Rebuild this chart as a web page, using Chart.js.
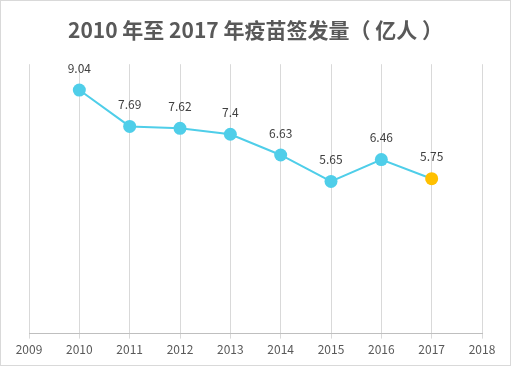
<!DOCTYPE html>
<html>
<head>
<meta charset="utf-8">
<script src="https://cdn.jsdelivr.net/npm/chart.js@4/dist/chart.umd.min.js"></script>
<style>
  html, body { margin: 0; padding: 0; background: #fff; }
  #wrap { width: 511px; height: 366px; box-sizing: border-box; border: 1px solid #d9d9d9; background: #fff; }
  canvas { display: block; }
</style>
</head>
<body>
<div id="wrap"><canvas id="c" width="509" height="364"></canvas></div>
<script>
const titleText = '2010 年至 2017 年疫苗签发量（ 亿人 ）';
const years = [2010, 2011, 2012, 2013, 2014, 2015, 2016, 2017];
const values = [9.04, 7.69, 7.62, 7.4, 6.63, 5.65, 6.46, 5.75];
const valueLabels = ['9.04', '7.69', '7.62', '7.4', '6.63', '5.65', '6.46', '5.75'];
const axisMin = 2009, axisMax = 2018;

const cyan = '#4FCEE9';
const gold = '#FFC000';
const pointColors = years.map((y, i) => i === years.length - 1 ? gold : cyan);

const labelPlugin = {
  id: 'valueLabels',
  afterDatasetsDraw(chart) {
    const ctx = chart.ctx;
    const meta = chart.getDatasetMeta(0);
    ctx.save();
    ctx.font = '12px "Noto Sans CJK SC", "Open Sans", sans-serif';
    ctx.fillStyle = '#404040';
    ctx.textAlign = 'center';
    ctx.textBaseline = 'middle';
    meta.data.forEach((pt, i) => {
      ctx.fillText(valueLabels[i], pt.x, pt.y - 22);
    });
    ctx.restore();
  }
};

new Chart(document.getElementById('c'), {
  type: 'line',
  data: {
    datasets: [{
      data: years.map((y, i) => ({ x: y, y: values[i] })),
      borderColor: cyan,
      borderWidth: 2,
      pointBackgroundColor: pointColors,
      pointBorderColor: pointColors,
      pointRadius: 6.5,
      pointBorderWidth: 0,
      tension: 0,
      fill: false
    }]
  },
  options: {
    responsive: false,
    animation: false,
    events: [],
    layout: { padding: { left: 28, right: 28, top: 0, bottom: 4 } },
    plugins: {
      legend: { display: false },
      tooltip: { enabled: false },
      title: {
        display: true,
        text: titleText,
        color: '#595959',
        font: { family: '"Noto Sans CJK SC", sans-serif', size: 21, weight: 'bold', lineHeight: 1.2 },
        padding: { top: 16, bottom: 22 }
      }
    },
    scales: {
      x: {
        type: 'linear',
        min: axisMin,
        max: axisMax,
        ticks: {
          stepSize: 1,
          color: '#595959',
          font: { family: '"Noto Sans CJK SC", "Open Sans", sans-serif', size: 12 },
          padding: 4,
          maxRotation: 0,
          callback: v => String(v)
        },
        grid: { color: '#d9d9d9', lineWidth: 1, tickLength: 5, drawOnChartArea: true },
        border: { display: true, color: '#bfbfbf', width: 1 }
      },
      y: {
        display: false,
        min: 0,
        max: 10
      }
    }
  },
  plugins: [labelPlugin]
});
</script>
</body>
</html>
